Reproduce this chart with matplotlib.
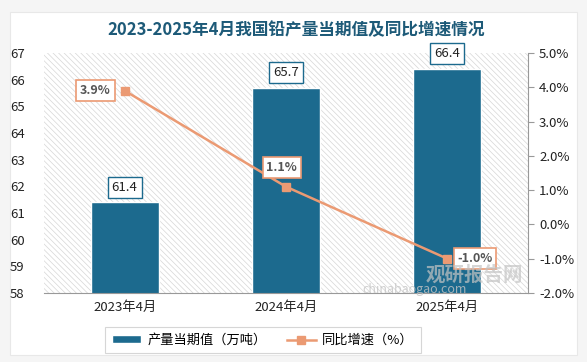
import matplotlib.pyplot as plt
import numpy as np
from matplotlib.patches import Rectangle
from matplotlib.lines import Line2D

plt.rcParams['font.family'] = ['Noto Sans CJK SC', 'DejaVu Sans']
plt.rcParams['hatch.linewidth'] = 0.5

# 数据
categories = ['2023年4月', '2024年4月', '2025年4月']
output = [61.4, 65.7, 66.4]          # 产量当期值（万吨）
growth = [3.9, 1.1, -1.0]            # 同比增速（%）

bar_color = '#1c6a8e'
line_color = '#eb9a73'
title_color = '#1d5a78'

fig = plt.figure(figsize=(5.87, 3.62), dpi=100)
fig.patch.set_facecolor('#f5f5f5')
# 白色卡片背景
fig.add_artist(Rectangle((10 / 587, 7 / 362), 567 / 587, 343 / 362,
                         transform=fig.transFigure, facecolor='white',
                         edgecolor='#e8e8e8', linewidth=0.8, zorder=0))

ax = fig.add_axes([44 / 587, 69 / 362, 484 / 587, 240 / 362])
ax.set_facecolor('none')
x = np.arange(len(categories))

# 斜线背景
ax.add_patch(Rectangle((0, 0), 1, 1, transform=ax.transAxes, facecolor='white',
                       edgecolor='#d6d6d6', hatch='\\\\\\\\\\\\', linewidth=0, zorder=0))

bars = ax.bar(x, output, width=0.42, color=bar_color,
              edgecolor='white', linewidth=1, zorder=2)
ax.set_ylim(58, 67)
ax.set_xlim(-0.5, 2.5)
ax.set_yticks(range(58, 68))
ax.set_xticks(x)
ax.set_xticklabels(categories, fontsize=9.5, color='#222222')
ax.tick_params(axis='y', length=0, labelsize=9.5, labelcolor='#222222', pad=14)
ax.tick_params(axis='x', length=0, pad=6)
for s in ['top', 'left', 'right']:
    ax.spines[s].set_visible(False)
ax.spines['bottom'].set_color('#999999')

for xi, v in zip(x, output):
    ax.annotate(f'{v}', (xi, v), xytext=(0, 11), textcoords='offset points',
                ha='center', va='center', fontsize=9.5, color='#222222',
                bbox=dict(boxstyle='square,pad=0.3', fc='white', ec=bar_color, lw=1),
                zorder=5)

ax2 = ax.twinx()
ax2.plot(x, growth, color=line_color, linewidth=1.8, marker='s', markersize=6,
         zorder=3)
ax2.set_ylim(-2, 5)
ax2.set_yticks(range(-2, 6))
ax2.set_yticklabels([f'{t:.1f}%' for t in range(-2, 6)])
ax2.tick_params(axis='y', length=4, color='#999999', labelsize=9.5,
                labelcolor='#222222', pad=4)
for s in ['top', 'left', 'bottom']:
    ax2.spines[s].set_visible(False)
ax2.spines['right'].set_color('#999999')

offsets = [(-21, 0), (-3, 14), (20, 0)]
for xi, v, off in zip(x, growth, offsets):
    ax2.annotate(f'{v:.1f}%', (xi, v), xytext=off, textcoords='offset points',
                 ha='center', va='center', fontsize=9, fontweight='bold',
                 color='#555555',
                 bbox=dict(boxstyle='square,pad=0.3', fc='white', ec=line_color, lw=1.2),
                 zorder=6)

# 水印
fig.text(474 / 587, 1 - 275 / 362, '观研报告网', fontsize=14, fontweight='bold',
         color='#c4c4c4', alpha=0.7, ha='center', va='center')
fig.text(415 / 587, 1 - 290 / 362, 'chinabaogao.com', fontsize=9, color='#c4c4c4',
         alpha=0.8, ha='center', va='center')

fig.text(0.505, 0.918, '2023-2025年4月我国铅产量当期值及同比增速情况',
         fontsize=12, fontweight='bold', color=title_color, ha='center', va='center')

h2 = Line2D([], [], color=line_color, marker='s', markersize=6, linewidth=1.8)
leg = fig.legend([bars, h2], ['产量当期值（万吨）', '同比增速（%）'],
                 loc='center', bbox_to_anchor=(0.448, 0.06), ncol=2,
                 fontsize=9.5, frameon=True, fancybox=False, edgecolor='#cccccc',
                 handlelength=2.2, handleheight=0.5, columnspacing=1.5,
                 borderpad=0.5, handletextpad=0.5)
leg.get_frame().set_linewidth(0.8)

plt.savefig('out.png', dpi=100, facecolor=fig.get_facecolor())
